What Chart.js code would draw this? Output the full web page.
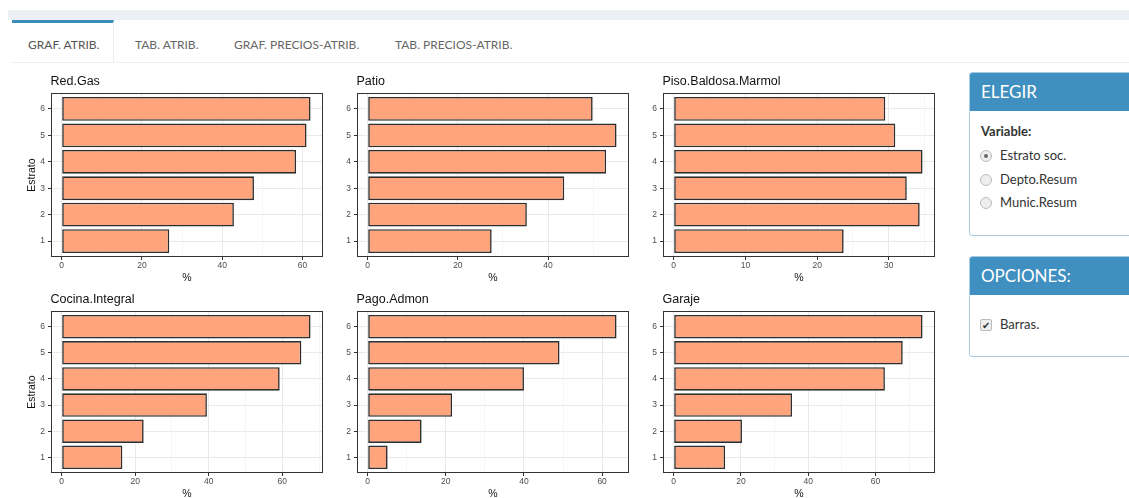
<!DOCTYPE html>
<html><head><meta charset="utf-8">
<script src="https://cdn.jsdelivr.net/npm/chart.js@4"></script>
<style>
html,body{margin:0;padding:0;background:#fff;width:1129px;height:498px;overflow:hidden;font-family:Lato,"Open Sans",sans-serif;}
.band{position:absolute;left:8px;top:10px;width:1121px;height:10px;background:#ecf0f5;}
.tabline{position:absolute;left:10px;top:62px;width:1119px;height:1px;background:#f0f0f0;}
.activeTab{position:absolute;left:12px;top:20px;width:102px;height:43px;border-top:3px solid #3c8dbc;box-sizing:border-box;background:#fff;border-right:1px solid #f0f0f0;}
.tab{position:absolute;top:37px;font-size:12px;color:#666;white-space:nowrap;}
.box{position:absolute;left:969px;width:175px;border:1px solid #a9cbe2;border-radius:3px;box-sizing:border-box;background:#fff;overflow:hidden;}
.boxhead{background:#3f8fc0;color:#fff;font-size:17px;padding-left:11px;box-sizing:border-box;}
.lbl{position:absolute;left:11px;font-size:13px;color:#333;white-space:nowrap;}
.radio{position:absolute;left:10px;width:12px;height:12px;border-radius:50%;border:1px solid #bbb;box-sizing:border-box;background:#eee;}
.radio.on::after{content:"";position:absolute;left:3px;top:3px;width:4px;height:4px;border-radius:50%;background:#666;}
.chk{position:absolute;left:10px;width:12px;height:12px;border:1px solid #bbb;border-radius:2px;box-sizing:border-box;background:#eee;font-size:10px;line-height:10px;text-align:center;color:#333;}
canvas{position:absolute;}
</style>
</head><body>
<div class="band"></div>
<div class="activeTab"></div>
<div class="tabline"></div>
<div class="tab" style="left:28px;color:#555">GRAF. ATRIB.</div>
<div class="tab" style="left:135px">TAB. ATRIB.</div>
<div class="tab" style="left:234px">GRAF. PRECIOS-ATRIB.</div>
<div class="tab" style="left:395px">TAB. PRECIOS-ATRIB.</div>

<div class="box" style="top:72px;height:164px;">
  <div class="boxhead" style="height:38px;line-height:38px;">ELEGIR</div>
  <div class="lbl" style="top:50px;font-weight:bold;">Variable:</div>
  <div class="radio on" style="top:77px;"></div><div class="lbl" style="left:30px;top:74px;">Estrato soc.</div>
  <div class="radio" style="top:101px;"></div><div class="lbl" style="left:30px;top:98px;">Depto.Resum</div>
  <div class="radio" style="top:124px;"></div><div class="lbl" style="left:30px;top:121px;">Munic.Resum</div>
</div>
<div class="box" style="top:256px;height:101px;">
  <div class="boxhead" style="height:38px;line-height:38px;">OPCIONES:</div>
  <div class="chk" style="top:62px;">&#10004;</div><div class="lbl" style="left:30px;top:59px;">Barras.</div>
</div>

<canvas id="c0"></canvas><canvas id="c1"></canvas><canvas id="c2"></canvas>
<canvas id="c3"></canvas><canvas id="c4"></canvas><canvas id="c5"></canvas>

<script>
// ---- data ----
const estratos = [1, 2, 3, 4, 5, 6];
const redGas = [26.8, 42.9, 47.9, 58.4, 61.0, 62.0];
const patio = [27.5, 35.3, 43.6, 52.9, 55.2, 49.9];
const pisoBaldosaMarmol = [23.7, 34.3, 32.5, 34.7, 30.9, 29.5];
const cocinaIntegral = [16.5, 22.3, 39.5, 59.3, 65.2, 67.7];
const pagoAdmon = [5.1, 13.8, 21.6, 40.0, 49.1, 63.7];
const garaje = [15.3, 20.3, 35.2, 62.8, 68.1, 74.0];

const titles = ["Red.Gas", "Patio", "Piso.Baldosa.Marmol", "Cocina.Integral", "Pago.Admon", "Garaje"];
const seriesList = [redGas, patio, pisoBaldosaMarmol, cocinaIntegral, pagoAdmon, garaje];
const majorTicks = [
  [0, 20, 40, 60], [0, 20, 40], [0, 10, 20, 30],
  [0, 20, 40, 60], [0, 20, 40, 60], [0, 20, 40, 60]
];
const minorTicks = [
  [10, 30, 50], [10, 30, 50], [5, 15, 25, 35],
  [10, 30, 50, 70], [10, 30, 50], [10, 30, 50, 70]
];
const yTitle = "Estrato";
const xTitle = "%";

// ---- layout ----
const panelL = [51, 357, 663], panelW = 272;
const panelT = [93, 311], panelH = [164, 162];
const YW = 30, TOPPAD = 22, XH = 30, RP = 6;
const FONT = "'Liberation Sans', Arial, sans-serif";

const panelPlugin = {
  id: 'panelDeco',
  afterDraw(chart, args, opts) {
    const {ctx, chartArea: a} = chart;
    ctx.save();
    ctx.strokeStyle = '#333333';
    ctx.lineWidth = 1;
    ctx.strokeRect(Math.round(a.left) + 0.5, Math.round(a.top) + 0.5, Math.round(a.right - a.left) - 1, Math.round(a.bottom - a.top) - 1);
    ctx.fillStyle = '#111';
    ctx.font = "12.5px " + FONT;
    ctx.textBaseline = 'alphabetic';
    ctx.textAlign = 'left';
    ctx.fillText(opts.text, a.left - 0.5, a.top - 8.3);
    ctx.restore();
  }
};

seriesList.forEach((vals, i) => {
  const r = Math.floor(i / 3), c = i % 3;
  const cv = document.getElementById('c' + i);
  const w = YW + panelW + RP, h = TOPPAD + panelH[r] + XH;
  cv.width = w; cv.height = h;
  cv.style.left = (panelL[c] - YW) + 'px';
  cv.style.top = (panelT[r] - TOPPAD) + 'px';
  cv.style.width = w + 'px'; cv.style.height = h + 'px';
  const maxV = Math.max(...vals);
  const mj = majorTicks[i], mn = minorTicks[i];
  const allX = mj.concat(mn).sort((a, b) => a - b);
  new Chart(cv, {
    type: 'bar',
    data: {
      datasets: [{
        data: vals.map((v, k) => ({x: v, y: estratos[k]})),
        backgroundColor: '#FFA47C',
        borderColor: '#2e2e2e',
        borderWidth: 1.6,
        barPercentage: 0.9,
        categoryPercentage: 1.0,
        borderSkipped: false
      }]
    },
    options: {
      indexAxis: 'y',
      responsive: false,
      animation: false,
      devicePixelRatio: 1,
      layout: {padding: {top: TOPPAD, right: RP, left: 0, bottom: 0}},
      plugins: {legend: {display: false}, tooltip: {enabled: false}, title: {display: false},
        panelDeco: {text: titles[i]}},
      scales: {
        x: {
          type: 'linear', min: -0.043 * maxV, max: 1.05 * maxV,
          afterBuildTicks: s => { s.ticks = allX.map(v => ({value: v})); },
          afterFit: s => { s.height = XH; },
          border: {display: false},
          grid: {
            color: ctx => mj.includes(ctx.tick.value) ? '#e9e9e9' : '#f2f2f2',
            lineWidth: ctx => mj.includes(ctx.tick.value) ? 1 : 0.7,
            tickColor: ctx => mj.includes(ctx.tick.value) ? '#333333' : 'rgba(0,0,0,0)',
            tickLength: 3, drawTicks: true
          },
          ticks: {
            autoSkip: false, maxRotation: 0, padding: 1,
            color: '#4d4d4d', font: {size: 8.5, family: FONT},
            callback: v => mj.includes(v) ? String(v) : ''
          },
          title: {display: true, text: xTitle, color: '#111', font: {size: 10.5, family: FONT, lineHeight: 1.2}, padding: {top: 0, bottom: 2.4}}
        },
        y: {
          type: 'linear', min: 0.4, max: 6.6, offset: false, reverse: false,
          afterBuildTicks: s => { s.ticks = estratos.map(v => ({value: v})); },
          afterFit: s => { s.width = YW; },
          border: {display: false},
          grid: {offset: false, color: '#e9e9e9', lineWidth: 1, tickColor: '#333333', tickLength: 3},
          ticks: {autoSkip: false, padding: 3, color: '#4d4d4d', font: {size: 8.5, family: FONT},
            callback: v => String(v)},
          title: {display: c === 0, text: yTitle, color: '#111', font: {size: 10.5, family: FONT, lineHeight: 1.2}, padding: {top: 5, bottom: 0}}
        }
      }
    },
    plugins: [panelPlugin]
  });
});
</script>
</body></html>
